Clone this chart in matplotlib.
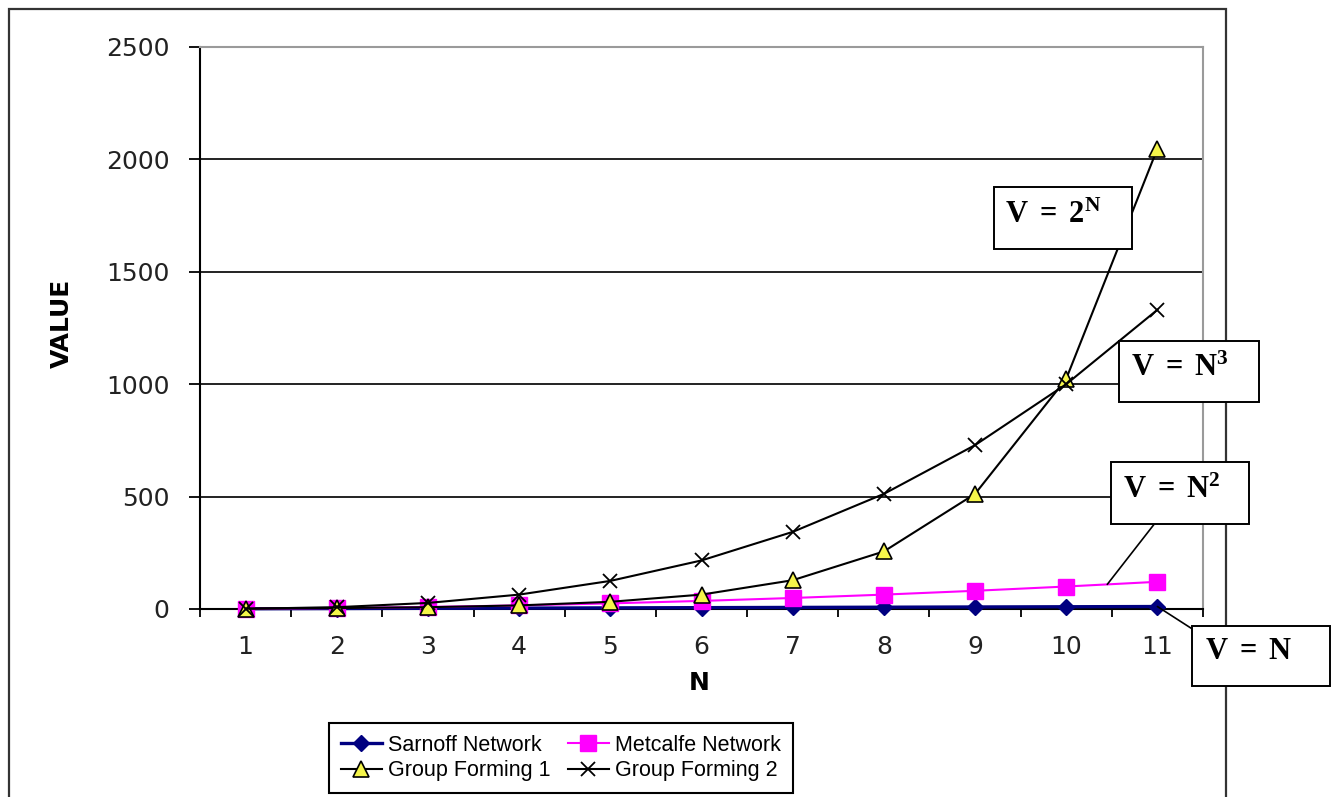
import numpy as np
import matplotlib
matplotlib.use("Agg")
import matplotlib.pyplot as plt
from matplotlib.patches import Rectangle, ConnectionPatch

# ---- data -------------------------------------------------------------
n_values = [1, 2, 3, 4, 5, 6, 7, 8, 9, 10, 11]
sarnoff = [1, 2, 3, 4, 5, 6, 7, 8, 9, 10, 11]                     # V = N
metcalfe = [1, 4, 9, 16, 25, 36, 49, 64, 81, 100, 121]             # V = N^2
group_forming_1 = [2, 4, 8, 16, 32, 64, 128, 256, 512, 1024, 2048]  # V = 2^N
group_forming_2 = [1, 8, 27, 64, 125, 216, 343, 512, 729, 1000, 1331]  # V = N^3
y_ticks = [0, 500, 1000, 1500, 2000, 2500]
series_labels = ["Sarnoff Network", "Metcalfe Network",
                 "Group Forming 1", "Group Forming 2"]

plt.rcParams["mathtext.fontset"] = "custom"
plt.rcParams["mathtext.rm"] = "Liberation Serif:bold"
plt.rcParams["mathtext.bf"] = "Liberation Serif:bold"
plt.rcParams["mathtext.it"] = "Liberation Serif:bold"

W, H = 1334, 797
fig = plt.figure(figsize=(W / 100, H / 100), dpi=100)
fig.patch.set_facecolor("white")


def px(x, y):
    """Pixel position measured from the top-left corner -> figure fraction."""
    return x / W, 1 - y / H


# chart-area frame
frame = Rectangle((9 / W, -0.05), (1226 - 9) / W, 0.05 + 1 - 9 / H,
                  transform=fig.transFigure, fill=False, ec="#333333",
                  lw=1.6, zorder=0.5)
fig.add_artist(frame)

ax = fig.add_axes([200 / W, 188 / H, 1003 / W, 562 / H])
ax.set_xlim(0.5, 11.5)
ax.set_ylim(y_ticks[0], y_ticks[-1])

# spines: black axes, grey plot-area border
for side in ("left", "bottom"):
    ax.spines[side].set_color("black")
    ax.spines[side].set_linewidth(1.5)
for side in ("top", "right"):
    ax.spines[side].set_color("#9a9a9a")
    ax.spines[side].set_linewidth(1.5)

# horizontal gridlines
for yv in y_ticks[1:-1]:
    ax.axhline(yv, color="#222222", lw=1.4, zorder=1)

ax.set_yticks(y_ticks)
ax.tick_params(axis="y", direction="out", length=8, width=1.3, pad=14,
               labelsize=18, labelcolor="#222222", color="black")

# category boundaries as major ticks, category labels on minor ticks
ax.set_xticks(np.arange(0.5, len(n_values) + 1, 1.0))
ax.set_xticklabels([])
ax.set_xticks(n_values, minor=True)
ax.set_xticklabels([str(v) for v in n_values], minor=True)
ax.tick_params(axis="x", which="major", direction="out", length=6, width=1.3,
               color="black")
ax.tick_params(axis="x", which="minor", length=0, pad=19, labelsize=18,
               labelcolor="#222222")
for lab in ax.get_xticklabels(minor=True) + ax.get_yticklabels():
    lab.set_fontfamily("DejaVu Sans")

# series
l1, = ax.plot(n_values, sarnoff, color="#000080", lw=2.4, marker="D",
              ms=8.5, mfc="#000080", mec="#000080", clip_on=False, zorder=3)
l2, = ax.plot(n_values, metcalfe, color="#ff00ff", lw=1.5, marker="s",
              ms=11, mfc="#ff00ff", mec="#ff00ff", clip_on=False, zorder=4)
l3, = ax.plot(n_values, group_forming_1, color="black", lw=1.5, marker="^",
              ms=12, mfc="#f5f54a", mec="black", mew=1.2, clip_on=False,
              zorder=5)
l4, = ax.plot(n_values, group_forming_2, color="black", lw=1.5, marker="x",
              ms=10, mec="black", mew=1.3, clip_on=False, zorder=6)

# axis titles
fig.text(*px(62, 323), "VALUE", rotation=90, ha="center", va="center",
         fontsize=18, fontweight="bold", family="DejaVu Sans")
fig.text(*px(699, 683), "N", ha="center", va="center",
         fontsize=18, fontweight="bold", family="DejaVu Sans")

# legend (row-major order in two columns)
leg = ax.legend([l1, l3, l2, l4],
                [series_labels[0], series_labels[2],
                 series_labels[1], series_labels[3]],
                ncol=2, loc="center", bbox_to_anchor=px(561, 758),
                bbox_transform=fig.transFigure,
                prop={"family": "Liberation Sans", "size": 15.5},
                frameon=True, fancybox=False, edgecolor="black",
                framealpha=1, handlelength=1.9, handletextpad=0.3,
                columnspacing=0.8, labelspacing=0.22, borderpad=0.55,
                borderaxespad=0)
leg.get_frame().set_linewidth(1.5)

# formula call-out boxes
boxes = [
    # (left, top, right, bottom), text x, text baseline, label
    ((994, 187, 1132, 249), 1005, 223, r"$\mathbf{V\;=\;2^{N}}$"),
    ((1119, 341, 1259, 402), 1131, 376, r"$\mathbf{V\;=\;N^{3}}$"),
    ((1111, 462, 1249, 524), 1123, 498, r"$\mathbf{V\;=\;N^{2}}$"),
    ((1192, 626, 1330, 686), 1205, 659, r"$\mathbf{V\;=\;N}$"),
]
for (x0, y0, x1, y1), tx, ty, label in boxes:
    fx, fy = px(x0, y1)
    fig.add_artist(Rectangle((fx, fy), (x1 - x0) / W, (y1 - y0) / H,
                             transform=fig.transFigure, fc="white",
                             ec="black", lw=1.4, zorder=10))
    fig.text(*px(tx, ty), label, ha="left", va="baseline", fontsize=22,
             color="black", zorder=11)

# leader lines from the boxes to their curves
x_lead = 10.45
leaders = [
    ((x_lead, np.interp(x_lead, n_values, metcalfe)), (1159, 518)),
    ((n_values[-1], sarnoff[-1]), (1197, 632)),
]
for xy_data, (bx, by) in leaders:
    con = ConnectionPatch(xyA=xy_data, coordsA=ax.transData,
                          xyB=(bx, H - by), coordsB="figure pixels",
                          color="black", lw=1.2, zorder=9)
    fig.add_artist(con)

fig.savefig("out.png", dpi=100, facecolor="white")
